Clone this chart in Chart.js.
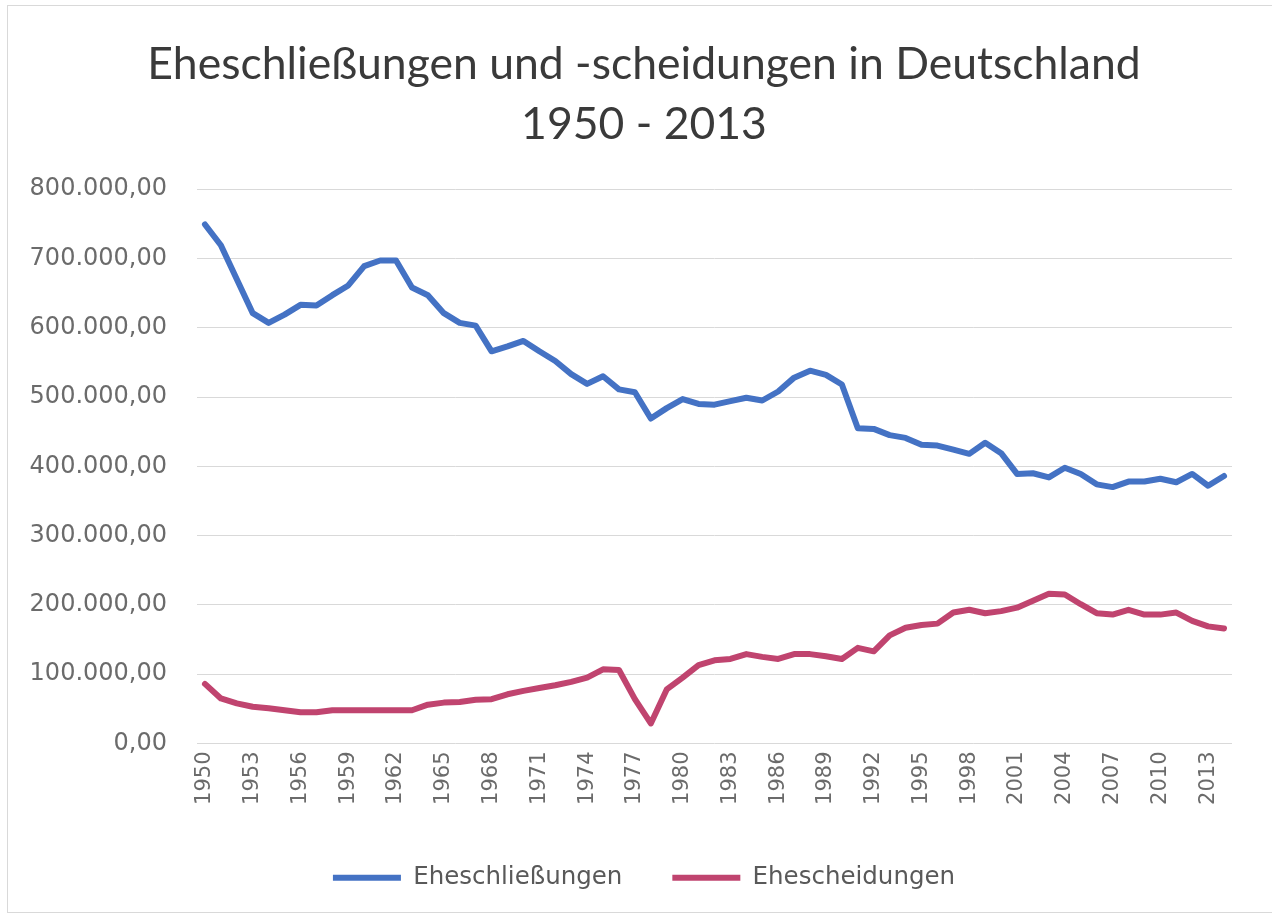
<!DOCTYPE html>
<html>
<head>
<meta charset="utf-8">
<script src="https://cdn.jsdelivr.net/npm/chart.js@4.4.1/dist/chart.umd.min.js"></script>
<style>
  html, body { margin: 0; padding: 0; background: #ffffff; overflow: hidden; }
  #frame { position: absolute; left: 7px; top: 5px; width: 1300px; height: 908px; border: 1px solid #d9d9d9; box-sizing: border-box; }
  #c { position: absolute; left: 0; top: 0; }
</style>
</head>
<body>
<div id="frame"></div>
<canvas id="c" width="1272" height="919"></canvas>
<script>
const titleLines = ["Eheschließungen und -scheidungen in Deutschland", "1950 - 2013"];
const seriesNames = ["Eheschließungen", "Ehescheidungen"];
const years = [];
for (let y = 1950; y <= 2014; y++) years.push(String(y));

const marriages = [
  749000, 719000, 670000, 621000, 607000, 619000, 633000, 632000, 647000, 661000,
  689000, 697000, 697000, 658000, 647000, 621000, 607000, 603000, 566000, 573000,
  581000, 566000, 552000, 533000, 519000, 530000, 511000, 507000, 469000, 484000,
  497000, 490000, 489000, 494000, 499000, 495000, 508000, 528000, 538000, 532000,
  518000, 455000, 454000, 445000, 441000, 431000, 430000, 424000, 418000, 434000,
  419000, 389000, 390000, 384000, 398000, 389000, 374000, 370000, 378000, 378000,
  382000, 377000, 389000, 372000, 386000
];
const divorces = [
  86000, 65000, 58000, 53000, 51000, 48000, 45000, 45000, 48000, 48000,
  48000, 48000, 48000, 48000, 56000, 59000, 60000, 63000, 64000, 71000,
  76000, 80000, 84000, 89000, 95000, 107000, 106000, 64000, 29000, 78000,
  95000, 113000, 120000, 122000, 129000, 125000, 122000, 129000, 129000, 126000,
  122000, 138000, 133000, 156000, 167000, 171000, 173000, 189000, 193000, 188000,
  191000, 196000, 206000, 216000, 215000, 201000, 188000, 186000, 193000, 186000,
  186000, 189000, 177000, 169000, 166000
];
const yMin = 0, yMax = 800000, yStep = 100000;

function fmtDE(v) {
  const s = String(Math.round(v));
  const grouped = s.replace(/\B(?=(\d{3})+(?!\d))/g, ".");
  return grouped + ",00";
}

const tickColor = "#6b6b6b";
const yFont = { family: "'DejaVu Sans', sans-serif", size: 24 };

// width of the widest y label, so right-aligned labels end 30px left of the plot
const mctx = document.createElement("canvas").getContext("2d");
mctx.font = yFont.size + "px " + yFont.family;
const widestY = mctx.measureText(fmtDE(yMax)).width;

new Chart(document.getElementById("c"), {
  type: "line",
  data: {
    labels: years,
    datasets: [
      { label: seriesNames[0], data: marriages, borderColor: "#4472C4", backgroundColor: "#4472C4",
        borderWidth: 6, pointRadius: 0, tension: 0, borderJoinStyle: "round", borderCapStyle: "round" },
      { label: seriesNames[1], data: divorces, borderColor: "#C0446F", backgroundColor: "#C0446F",
        borderWidth: 6, pointRadius: 0, tension: 0, borderJoinStyle: "round", borderCapStyle: "round" }
    ]
  },
  options: {
    responsive: false,
    animation: false,
    devicePixelRatio: 1,
    layout: { padding: { top: 0, left: 56, right: 40, bottom: 19 } },
    plugins: {
      title: {
        display: true,
        text: titleLines,
        color: "#3a3a3a",
        font: { family: "Lato, 'Open Sans', sans-serif", size: 44.5, weight: "normal", lineHeight: 1.35 },
        padding: { top: 35, bottom: 34 }
      },
      legend: {
        position: "bottom",
        labels: {
          usePointStyle: true,
          pointStyle: "line",
          pointStyleWidth: 68,
          boxHeight: 24,
          padding: 50,
          color: "#595959",
          font: { family: "'DejaVu Sans', sans-serif", size: 24.5 }
        }
      },
      tooltip: { enabled: false }
    },
    scales: {
      x: {
        type: "category",
        offset: true,
        grid: { display: false, drawTicks: false },
        border: { display: false },
        ticks: {
          autoSkip: false,
          minRotation: 90,
          maxRotation: 90,
          padding: 8,
          color: tickColor,
          font: { family: "'DejaVu Sans', sans-serif", size: 21 },
          callback: function (val, idx) { return idx % 3 === 0 ? this.getLabelForValue(val) : ""; }
        },
        afterFit: function (scale) { scale.height = 72; }
      },
      y: {
        min: yMin,
        max: yMax,
        grid: { color: "#d9d9d9", lineWidth: 1, drawTicks: false },
        border: { display: false },
        ticks: {
          stepSize: yStep,
          mirror: true,
          crossAlign: "far",
          padding: -30 - widestY,
          color: tickColor,
          font: yFont,
          callback: function (v) { return fmtDE(v); }
        },
        afterFit: function (scale) { scale.width = 141; }
      }
    }
  }
});
</script>
</body>
</html>
